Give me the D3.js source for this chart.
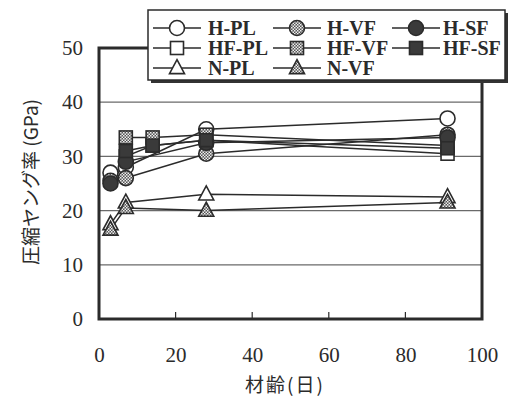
<!DOCTYPE html>
<html>
<head>
<meta charset="utf-8">
<script src="https://cdn.jsdelivr.net/npm/d3@7"></script>
<style>
  html, body { margin: 0; padding: 0; background: #fff; }
  svg { display: block; }
</style>
</head>
<body>
<svg id="chart" width="511" height="396"></svg>
<script>
// Compressive Young's modulus vs. age (days)
const xTicks = [0, 20, 40, 60, 80, 100];
const yTicks = [0, 10, 20, 30, 40, 50];

const daysH = [3, 7, 28, 91];
const daysHF = [7, 14, 28, 91];
const daysN = [3, 7, 28, 91];

const hPL = [27, 28, 35, 37];
const hVF = [25.5, 26, 30.5, 34];
const hSF = [25, 29, 32.5, 33.5];
const hfPL = [30, 32, 33, 30.5];
const hfVF = [33.5, 33.5, 34, 32];
const hfSF = [31, 32, 33, 31.5];
const nPL = [17.5, 21.5, 23, 22.5];
const nVF = [16.5, 20.5, 20, 21.5];

const seriesNames = ["H-PL", "H-VF", "H-SF", "HF-PL", "HF-VF", "HF-SF", "N-PL", "N-VF"];

const series = [
  { name: "H-PL", days: daysH, vals: hPL, shape: "circle", fill: "open" },
  { name: "HF-PL", days: daysHF, vals: hfPL, shape: "square", fill: "open" },
  { name: "N-PL", days: daysN, vals: nPL, shape: "triangle", fill: "open" },
  { name: "H-VF", days: daysH, vals: hVF, shape: "circle", fill: "hatch" },
  { name: "HF-VF", days: daysHF, vals: hfVF, shape: "square", fill: "hatch" },
  { name: "N-VF", days: daysN, vals: nVF, shape: "triangle", fill: "hatch" },
  { name: "H-SF", days: daysH, vals: hSF, shape: "circle", fill: "solid" },
  { name: "HF-SF", days: daysHF, vals: hfSF, shape: "square", fill: "solid" }
];

const ink = "#2b2b2b";
const svg = d3.select("#chart");

// checkered fill used by the VF markers
const defs = svg.append("defs");
const pat = defs.append("pattern")
  .attr("id", "hatch").attr("patternUnits", "userSpaceOnUse")
  .attr("width", 3).attr("height", 3);
pat.append("rect").attr("width", 3).attr("height", 3).attr("fill", "#555");
pat.append("rect").attr("width", 1.5).attr("height", 1.5).attr("fill", "#eee");
pat.append("rect").attr("x", 1.5).attr("y", 1.5).attr("width", 1.5).attr("height", 1.5).attr("fill", "#eee");

const x = d3.scaleLinear().domain([0, 100]).range([99, 482]);
const y = d3.scaleLinear().domain([0, 50]).range([319, 48]);

// horizontal grid
svg.append("g").selectAll("line").data(yTicks.filter(t => t > 0 && t < 50)).join("line")
  .attr("x1", x(0)).attr("x2", x(100))
  .attr("y1", d => y(d)).attr("y2", d => y(d))
  .attr("stroke", "#6a6a6a").attr("stroke-width", 1.2);

// axes
const xAxis = d3.axisBottom(x).tickValues(xTicks).tickSize(0).tickPadding(28);
const gx = svg.append("g").attr("transform", `translate(0,${y(0)})`).call(xAxis);
gx.select(".domain").remove();
gx.selectAll("text").attr("font-family", "Liberation Serif, serif").attr("font-size", 21).attr("fill", ink);

const yAxis = d3.axisLeft(y).tickValues(yTicks).tickSize(0).tickPadding(16);
const gy = svg.append("g").attr("transform", `translate(${x(0)},0)`).call(yAxis);
gy.select(".domain").remove();
gy.selectAll("text").attr("font-family", "Liberation Serif, serif").attr("font-size", 21).attr("fill", ink);

// inner tick marks on the bottom axis
svg.append("g").selectAll("line").data(xTicks.filter(t => t > 0 && t < 100)).join("line")
  .attr("x1", d => x(d)).attr("x2", d => x(d))
  .attr("y1", y(0)).attr("y2", y(0) - 7)
  .attr("stroke", ink).attr("stroke-width", 1.2);

// plot frame
svg.append("rect")
  .attr("x", x(0)).attr("y", y(50))
  .attr("width", x(100) - x(0)).attr("height", y(0) - y(50))
  .attr("fill", "none").attr("stroke", ink).attr("stroke-width", 3);

// series lines
const line = d3.line().x(d => x(d[0])).y(d => y(d[1]));
svg.append("g").selectAll("path").data(series).join("path")
  .attr("d", s => line(s.days.map((d, i) => [d, s.vals[i]])))
  .attr("fill", "none").attr("stroke", ink).attr("stroke-width", 1.5);

function fillOf(f) {
  return f === "open" ? "#fff" : f === "hatch" ? "url(#hatch)" : "#3a3a3a";
}

function drawMarker(g, shape, fill, cx, cy) {
  const common = el => el.attr("fill", fillOf(fill)).attr("stroke", ink).attr("stroke-width", 1.6);
  if (shape === "circle") {
    common(g.append("circle").attr("cx", cx).attr("cy", cy).attr("r", 7.5));
  } else if (shape === "square") {
    common(g.append("rect").attr("x", cx - 6.5).attr("y", cy - 6.5).attr("width", 13).attr("height", 13));
  } else {
    const h = 14, w = 15;
    common(g.append("path").attr("d",
      `M${cx},${cy - h * 0.6} L${cx + w / 2},${cy + h * 0.4} L${cx - w / 2},${cy + h * 0.4} Z`));
  }
}

const gm = svg.append("g");
series.forEach(s => {
  s.days.forEach((d, i) => drawMarker(gm, s.shape, s.fill, x(d), y(s.vals[i])));
});

// legend
const lg = svg.append("g");
lg.append("rect").attr("x", 151).attr("y", 13).attr("width", 357).attr("height", 70).attr("fill", "#333");
lg.append("rect").attr("x", 148).attr("y", 10).attr("width", 357).attr("height", 70)
  .attr("fill", "#fff").attr("stroke", ink).attr("stroke-width", 1.5);

const legendItems = [
  { name: seriesNames[0], shape: "circle", fill: "open", col: 0, row: 0 },
  { name: seriesNames[1], shape: "circle", fill: "hatch", col: 1, row: 0 },
  { name: seriesNames[2], shape: "circle", fill: "solid", col: 2, row: 0 },
  { name: seriesNames[3], shape: "square", fill: "open", col: 0, row: 1 },
  { name: seriesNames[4], shape: "square", fill: "hatch", col: 1, row: 1 },
  { name: seriesNames[5], shape: "square", fill: "solid", col: 2, row: 1 },
  { name: seriesNames[6], shape: "triangle", fill: "open", col: 0, row: 2 },
  { name: seriesNames[7], shape: "triangle", fill: "hatch", col: 1, row: 2 }
];
const colX = [153, 273, 392];
const textX = [208, 327, 443];
const rowY = [28, 48, 68];
legendItems.forEach(it => {
  const lx = colX[it.col], ly = rowY[it.row];
  lg.append("line").attr("x1", lx).attr("x2", lx + 48).attr("y1", ly).attr("y2", ly)
    .attr("stroke", ink).attr("stroke-width", 1.6);
  drawMarker(lg, it.shape, it.fill, lx + 24, ly);
  lg.append("text").attr("x", textX[it.col]).attr("y", ly + 6.5)
    .attr("font-family", "Liberation Serif, serif").attr("font-weight", "bold")
    .attr("font-size", 20).attr("fill", ink).text(it.name);
});

// axis titles
svg.append("text")
  .attr("transform", `translate(38,182) rotate(-90)`)
  .attr("text-anchor", "middle")
  .attr("font-family", "Noto Sans CJK JP, sans-serif").attr("font-size", 19).attr("fill", ink)
  .text("圧縮ヤング率 (GPa)");

svg.append("text")
  .attr("x", 285).attr("y", 392)
  .attr("text-anchor", "middle")
  .attr("font-family", "Noto Sans CJK JP, sans-serif").attr("font-size", 19)
  .attr("letter-spacing", 2).attr("fill", ink)
  .text("材齢(日)");
</script>
</body>
</html>
